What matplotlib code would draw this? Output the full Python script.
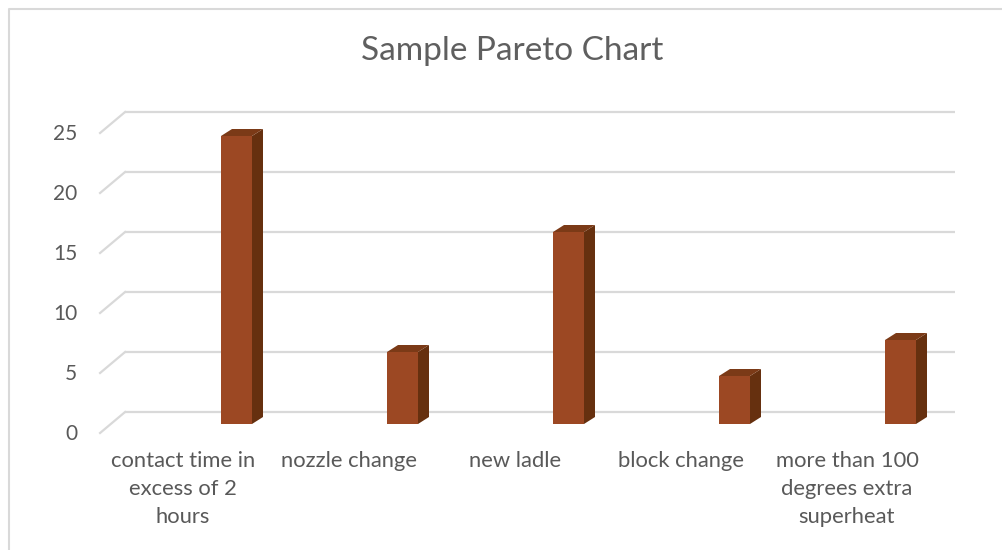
import matplotlib
matplotlib.use('Agg')
import matplotlib.pyplot as plt
from matplotlib.patches import Polygon

# datos del grafico
categorias = ['contact time in\nexcess of 2\nhours', 'nozzle change', 'new ladle',
              'block change', 'more than 100\ndegrees extra\nsuperheat']
valores = [24, 6, 16, 4, 7]
ticks_y = [0, 5, 10, 15, 20, 25]
titulo = 'Sample Pareto Chart'

plt.rcParams['font.family'] = ['Lato', 'DejaVu Sans']
gris = '#595959'

W, H = 1003, 550
fig = plt.figure(figsize=(W / 100, H / 100), dpi=100)
ax = fig.add_axes([0, 0, 1, 1])
# una categoria = 166 px, una unidad = 12 px (pared trasera: valor 0 en y=412 px)
cx0, cpx, y0, upx = 183, 166, 412, 12
ax.set_xlim(-cx0 / cpx, (W - cx0) / cpx)
ax.set_ylim((y0 - H) / upx, y0 / upx)
ax.axis('off')

# profundidad del piso 3d
pdx, pdy = -25 / cpx, -21 / upx
x_ini, x_fin = -0.349, 4.651

for t in ticks_y:
    ax.plot([x_ini, x_fin], [t, t], color='#d9d9d9', lw=1.6, zorder=1, solid_capstyle='butt')
    ax.plot([x_ini + pdx, x_ini], [t + pdy, t], color='#d9d9d9', lw=1.6, zorder=1)
    ax.text(x_ini + pdx - 23 / cpx, t + pdy - 1 / upx, str(t), ha='right', va='center',
            fontsize=15, color=gris)

# barras 3d
izq, ancho = 38 / cpx, 31 / cpx
bdx, bdy = 11 / cpx, 7 / upx
base = -1.0
for i, v in enumerate(valores):
    x1 = i + izq
    x2 = x1 + ancho
    top = base + v
    frente = Polygon([(x1, base), (x2, base), (x2, top), (x1, top)], closed=True,
                     facecolor='#9c4823', edgecolor='none', zorder=3)
    lado = Polygon([(x2, base), (x2 + bdx, base + bdy), (x2 + bdx, top + bdy), (x2, top)],
                   closed=True, facecolor='#66300f', edgecolor='none', zorder=3)
    tapa = Polygon([(x1, top), (x2, top), (x2 + bdx, top + bdy), (x1 + bdx, top + bdy)],
                   closed=True, facecolor='#7b3a17', edgecolor='none', zorder=3)
    for p in (frente, lado, tapa):
        ax.add_patch(p)

for i, c in enumerate(categorias):
    ax.text(i, (y0 - 451) / upx, c, ha='center', va='top', fontsize=15.8,
            color=gris, linespacing=1.5)

ax.text((512 - cx0) / cpx, (y0 - 51) / upx, titulo, ha='center', va='center',
        fontsize=24, color='#5f5f5f')

# marco
ax.plot([(W + 5 - cx0) / cpx, (8.5 - cx0) / cpx, (8.5 - cx0) / cpx],
        [(y0 - 8.5) / upx, (y0 - 8.5) / upx, (y0 - H - 5) / upx],
        color='#d9d9d9', lw=1.5, zorder=0)

fig.savefig('out.png', dpi=100)
